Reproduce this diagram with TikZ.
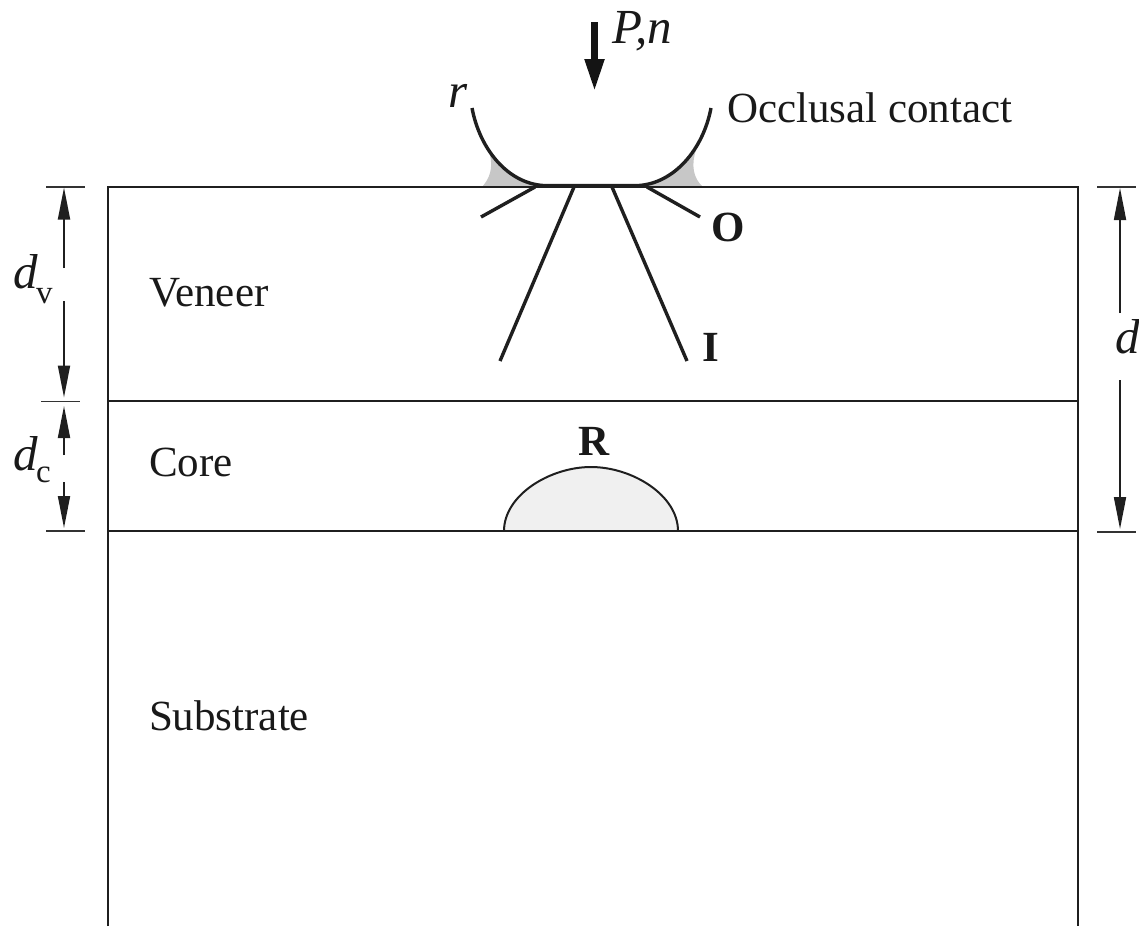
\documentclass[tikz,border=0pt]{standalone}
\usepackage{fontspec}
\setmainfont{Liberation Serif}
\usetikzlibrary{arrows.meta}
\tikzset{
  layer/.style={line width=2.7pt,black!88},
  crack/.style={line width=3.4pt,black!88},
  tick/.style={line width=1.7pt,black!80},
  dimline/.style={line width=1.8pt,black!88,-{Triangle[length=32pt,width=12pt]}},
  txt/.style={anchor=base west,inner sep=0pt,outer sep=0pt,font=\fontsize{43}{50}\selectfont,text=black!90},
  bold/.style={txt,font=\fontsize{43}{50}\selectfont\bfseries},
  ital/.style={txt,font=\fontsize{49}{56}\selectfont\itshape},
  sub/.style={txt,font=\fontsize{33}{38}\selectfont},
}
\begin{document}
\begin{tikzpicture}[x=1pt,y=-1pt,>=stealth]
 \useasboundingbox (0,0) rectangle (1139,926);
 % occlusal contact wedge
 \fill[black!22] (482,187) .. controls (490,178) and (493,168) .. (490,155) .. controls (502,172) and (517,181) .. (535,186) -- cycle;
 \fill[black!22] (703,187) .. controls (693,178) and (691,165) .. (696,150) .. controls (682,169) and (666,180) .. (647,186) -- cycle;
 % residual patch under the core
 \fill[black!6] (504,531) .. controls (504,495) and (550,467) .. (591,467) .. controls (632,467) and (678,495) .. (678,531) -- cycle;
 \draw[line width=2pt,black!88] (504,531) .. controls (504,495) and (550,467) .. (591,467) .. controls (632,467) and (678,495) .. (678,531);
 % layers
 \draw[layer] (108,926) -- (108,187) -- (1078,187) -- (1078,926);
 \draw[layer] (108,401) -- (1078,401);
 \draw[layer] (108,531) -- (1078,531);
 % contact and cracks
 \draw[crack] (472,108) .. controls (480,150) and (508,183) .. (543,185.5) -- (639,185.5) .. controls (674,183) and (703,150) .. (711,108);
 \draw[crack] (535,187) -- (481,217);
 \draw[crack] (647,187) -- (700,217);
 \draw[crack] (574,187) -- (500,361);
 \draw[crack] (612,187) -- (687,361);
 % load
 \coordinate (loadtop) at (594.5,22);
 \coordinate (loadtip) at (594.5,92);
 \draw[line width=7.5pt,black!92,-{Triangle[length=33pt,width=18pt]}] (loadtop) -- (loadtip);
 \node[ital] (loadlabel) at (612,43) {P,n};
 \node[ital] (radius) at (448,107) {r};
 \node[txt] (contact) at (727,122) {Occlusal contact};
 \node[bold] (outer) at (711,241) {O};
 \node[bold] (inner) at (702,361) {I};
 \node[bold] (radial) at (578,455) {R};
 \node[txt] (veneer) at (149,306) {Veneer};
 \node[txt] (core) at (149,476) {Core};
 \node[txt] (substrate) at (149,730) {Substrate};
 % left dimensions
 \coordinate (va) at (64,187.5);
 \coordinate (vb) at (64,268);
 \coordinate (vc) at (64,301);
 \coordinate (vd) at (64,397.5);
 \coordinate (ca) at (64,406);
 \coordinate (cb) at (64,455);
 \coordinate (cc) at (64,482);
 \coordinate (cd) at (64,528);
 \draw[tick] (46,187) -- (85,187);
 \draw[tick] (41,401.5) -- (80,401.5);
 \draw[tick] (46,531) -- (85,531);
 \draw[dimline] (vb) -- (va);
 \draw[dimline] (vc) -- (vd);
 \draw[dimline] (cb) -- (ca);
 \draw[dimline] (cc) -- (cd);
 \node[ital] (dv) at (13,288) {d};
 \node[sub] (dvsub) at (36,303) {v};
 \node[ital] (dc) at (13,470) {d};
 \node[sub] (dcsub) at (36,482) {c};
 % right dimension
 \coordinate (da) at (1120,188);
 \coordinate (db) at (1120,313);
 \coordinate (dc1) at (1120,380);
 \coordinate (dd) at (1120,529);
 \draw[tick] (1097,187) -- (1136,187);
 \draw[tick] (1097,532) -- (1136,532);
 \draw[dimline] (db) -- (da);
 \draw[dimline] (dc1) -- (dd);
 \node[ital] (depth) at (1115,353) {d};
\end{tikzpicture}
\end{document}
